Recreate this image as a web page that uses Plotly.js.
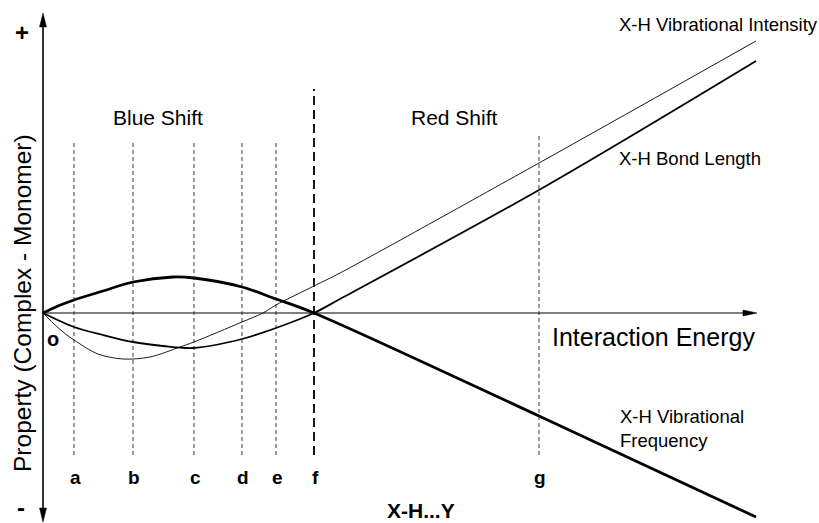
<!DOCTYPE html>
<html>
<head>
<meta charset="utf-8">
<script src="https://cdn.plot.ly/plotly-3.0.1.min.js"></script>
<style>
html,body{margin:0;padding:0;background:#fff;}
#chart{width:819px;height:523px;}
</style>
</head>
<body>
<div id="chart"></div>
<script>
// Interaction coordinate (arbitrary units) and property change (Complex - Monomer, arbitrary units)
const freqX = [0, 15, 31, 60, 90, 130, 151, 199, 233, 271, 496, 713];
const freqY = [0, 7, 13, 22, 31, 36, 35, 26, 14, 0, -103, -204];

const bondX = [0, 31, 60, 90, 120, 150, 199, 233, 271, 297, 496, 713];
const bondY = [0, -14, -22, -29, -33, -35, -26, -15, 0, 14, 123, 252];

const intX = [0, 10, 20, 31, 55, 80, 107, 137, 151, 199, 220, 233, 271, 297, 496, 713];
const intY = [0, -10, -19, -27, -41, -46, -44, -34, -29, -9, 0, 8, 27, 40, 150, 272];

const markerLabels = ['a', 'b', 'c', 'd', 'e', 'f', 'g'];
const markerX = [31, 90, 151, 199, 233, 271, 496];

const seriesNames = ['X-H Vibrational Intensity', 'X-H Bond Length', 'X-H Vibrational<br>Frequency'];
const regionNames = ['Blue Shift', 'Red Shift'];

// axis extents
const xMin = -43, xMax = 776, yMin = -210, yMax = 313;
const yAxisTop = 300, yAxisBottom = -209, xAxisRight = 714;
const headLen = 14, headHalf = 3.5;

const FONT = 'Liberation Sans, Arial, Helvetica, sans-serif';

const traces = [
  {x: intX, y: intY, mode: 'lines', line: {color: '#000', width: 0.9, shape: 'spline', smoothing: 0.9}, hoverinfo: 'skip'},
  {x: bondX, y: bondY, mode: 'lines', line: {color: '#000', width: 1.8, shape: 'spline', smoothing: 0.9}, hoverinfo: 'skip'},
  {x: freqX, y: freqY, mode: 'lines', line: {color: '#000', width: 2.8, shape: 'spline', smoothing: 0.9}, hoverinfo: 'skip'}
];

const shapes = [];
// axes
shapes.push({type: 'line', xref: 'x', yref: 'y', x0: 0, x1: 0, y0: yAxisBottom + headLen, y1: yAxisTop - headLen, line: {color: '#000', width: 1.6}});
shapes.push({type: 'line', xref: 'x', yref: 'y', x0: 0, x1: xAxisRight - headLen, y0: 0, y1: 0, line: {color: '#000', width: 1}});
// arrow heads
shapes.push({type: 'path', xref: 'x', yref: 'y', fillcolor: '#000', line: {color: '#000', width: 0.5},
  path: `M 0 ${yAxisTop} L ${-headHalf} ${yAxisTop - headLen} L ${headHalf} ${yAxisTop - headLen} Z`});
shapes.push({type: 'path', xref: 'x', yref: 'y', fillcolor: '#000', line: {color: '#000', width: 0.5},
  path: `M 0 ${yAxisBottom} L ${-headHalf} ${yAxisBottom + headLen} L ${headHalf} ${yAxisBottom + headLen} Z`});
shapes.push({type: 'path', xref: 'x', yref: 'y', fillcolor: '#000', line: {color: '#000', width: 0.5},
  path: `M ${xAxisRight} 0 L ${xAxisRight - headLen} ${-headHalf + 0.5} L ${xAxisRight - headLen} ${headHalf - 0.5} Z`});

// marker lines
markerLabels.forEach((lab, i) => {
  const isF = lab === 'f';
  const isG = lab === 'g';
  shapes.push({
    type: 'line', xref: 'x', yref: 'y',
    x0: markerX[i], x1: markerX[i],
    y0: -142, y1: isF ? 224 : (isG ? 178 : 170),
    line: {color: isF ? '#000' : '#222', width: isF ? 1.8 : 0.9, dash: isF ? '9px,5px' : '4px,3px'}
  });
});

const ann = [];
function txt(text, x, y, size, opts) {
  ann.push(Object.assign({text: text, x: x, y: y, xref: 'x', yref: 'y', showarrow: false,
    font: {family: FONT, size: size, color: '#000'}}, opts || {}));
}
markerLabels.forEach((lab, i) => txt('<b>' + lab + '</b>', markerX[i] + 1, -164, 19));
txt('<b>o</b>', 10, -26, 20);
txt('<b>+</b>', -21, 281, 24);
txt('<b>-</b>', -22, -210, 24, {yanchor: 'bottom'});
txt('Property (Complex - Monomer)', -21, 10, 24.5, {textangle: -90});
txt(regionNames[0], 115, 196, 21);
txt(regionNames[1], 411.5, 196, 21);
txt('Interaction Energy', 507, -24, 25, {xanchor: 'left'});
txt(seriesNames[0], 574, 289, 18.5, {xanchor: 'left'});
txt(seriesNames[1], 574, 155, 18.5, {xanchor: 'left'});
txt(seriesNames[2], 575, -115, 18.5, {xanchor: 'left', align: 'left'});
txt('<b>X-H...Y</b>', 378, -197, 21);

const layout = {
  width: 819, height: 523,
  margin: {l: 0, r: 0, t: 0, b: 0},
  paper_bgcolor: '#fff', plot_bgcolor: '#fff',
  showlegend: false,
  xaxis: {range: [xMin, xMax], visible: false, fixedrange: true},
  yaxis: {range: [yMin, yMax], visible: false, fixedrange: true},
  shapes: shapes,
  annotations: ann
};

Plotly.newPlot('chart', traces, layout, {displayModeBar: false, staticPlot: true});
</script>
</body>
</html>
